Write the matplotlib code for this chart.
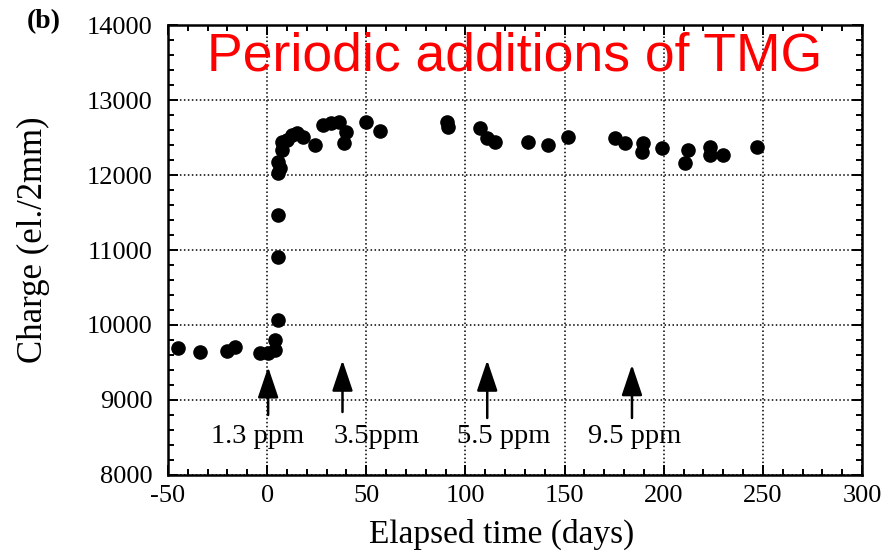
import numpy as np
import matplotlib.pyplot as plt
from matplotlib.ticker import MultipleLocator

plt.rcParams['axes.unicode_minus'] = False

# measured points (days, charge in el./2mm)
days = [-45, -34, -20, -16, -3.5, 0.5, 4, 4, 5.5, 5.5, 5.5, 5.5, 6.5, 5.5, 7.5, 7.5,
        10, 12.5, 15, 18, 24, 28, 32, 36, 40, 39, 50, 57,
        90.7, 91.3, 107.4, 111, 115, 131.6, 141.7, 151.8, 175.5, 180.5, 189.6, 189,
        199, 212.3, 210.8, 223.4, 223.4, 230, 247]
charge = [9693, 9640, 9653, 9707, 9627, 9627, 9667, 9800, 10060, 10907, 11470, 12027, 12100, 12173, 12333, 12440,
          12467, 12533, 12560, 12507, 12400, 12667, 12693, 12707, 12573, 12427, 12707, 12590,
          12707, 12640, 12627, 12493, 12440, 12440, 12400, 12507, 12493, 12427, 12427, 12307,
          12360, 12333, 12160, 12373, 12267, 12267, 12373]

# TMG additions
add_labels = ['1.3 ppm', '3.5ppm', '5.5 ppm', '9.5 ppm']
label_x = [-5, 55, 119.5, 185.5]
arrow_x = [0.5, 38, 111, 184]
arrow_top = [9440, 9530, 9530, 9470]
arrow_bottom = [8800, 8840, 8760, 8760]

serif = 'Liberation Serif'

fig = plt.figure(figsize=(8.87, 5.52), dpi=100)
ax = fig.add_axes([0.1894, 0.1395, 0.9718 - 0.1894, 0.9547 - 0.1395])

ax.scatter(days, charge, s=90, color='black', zorder=3)

for x, top, bot in zip(arrow_x, arrow_top, arrow_bottom):
    ax.annotate('', xy=(x, top), xytext=(x, bot),
                arrowprops=dict(arrowstyle='-|>,head_length=0.95,head_width=0.32',
                                color='black', lw=1.8, mutation_scale=20,
                                shrinkA=0, shrinkB=0))
for lab, x in zip(add_labels, label_x):
    ax.text(x, 8510, lab, ha='center', va='center', fontsize=20.5, family=serif)

ax.set_xlim(-50, 300)
ax.set_ylim(8000, 14000)
ax.xaxis.set_major_locator(MultipleLocator(50))
ax.xaxis.set_minor_locator(MultipleLocator(10))
ax.yaxis.set_major_locator(MultipleLocator(1000))
ax.yaxis.set_minor_locator(MultipleLocator(200))
ax.grid(True, which='major', color='black', linestyle=(0, (1, 1.6)), linewidth=1.1)

ax.tick_params(which='both', direction='in', top=True, right=True, width=1.4)
ax.tick_params(which='major', length=7, labelsize=19)
ax.tick_params(which='minor', length=4)
ax.tick_params(axis='y', pad=11)
ax.tick_params(axis='x', pad=7)
for t in ax.get_xticklabels() + ax.get_yticklabels():
    t.set_family(serif)
for s in ax.spines.values():
    s.set_linewidth(1.8)

ax.set_xlabel('Elapsed time (days)', fontsize=24, family=serif)
ax.set_ylabel('Charge (el./2mm)', fontsize=25, family=serif)
ax.xaxis.set_label_coords(0.481, -0.098)
ax.yaxis.set_label_coords(-0.17, 0.522)

ax.text(0.5, 0.9, 'Periodic additions of TMG', transform=ax.transAxes, ha='center',
        va='baseline', color='red', fontsize=38.5, family='Liberation Sans')
fig.text(0.030, 0.960, '(b)', fontsize=20, fontweight='bold', family=serif, va='center')

fig.savefig('out.png', dpi=100)
